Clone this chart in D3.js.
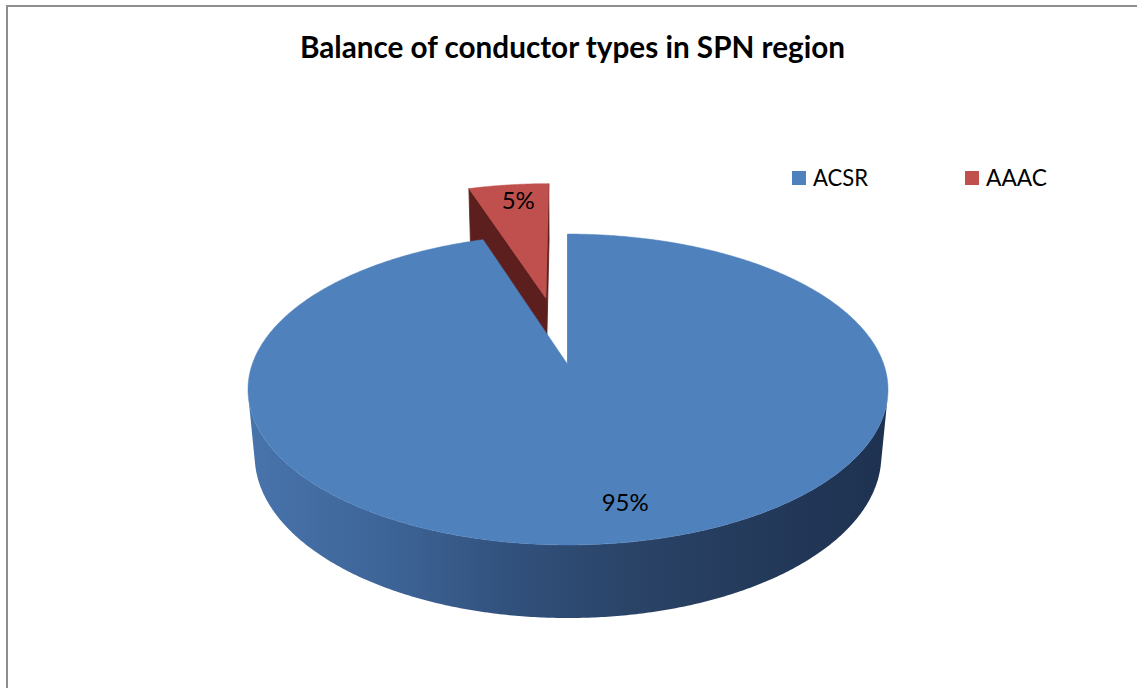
<!DOCTYPE html>
<html><head><meta charset="utf-8">
<script src="https://cdn.jsdelivr.net/npm/d3@7"></script>
<style>html,body{margin:0;padding:0;background:#fff;overflow:hidden}</style>
</head><body><svg id="c" width="1137" height="688"></svg>
<script>
// ---- data ----
const categories = ["ACSR", "AAAC"];
const values = [95, 5];
const valueLabels = ["95%", "5%"];
const explodeRatio = [0, 0.48];
const titleText = "Balance of conductor types in SPN region";

// ---- styles ----
const topColors = ["#4f81bd", "#c0504d"];
const wallColors = ["#2c4a74", "#5c1f1d"];
const FONT = "Lato, 'Open Sans', sans-serif";

const svg = d3.select("#c");
svg.append("rect").attr("width", 1137).attr("height", 688).attr("fill", "#fff");
svg.append("rect").attr("x", 7).attr("y", 6).attr("width", 1300).attr("height", 900)
  .attr("fill", "none").attr("stroke", "#8e8e8e").attr("stroke-width", 2);

// ---- 3D projection ----
const cx = 568, cy = 365, G = 316;
const sinPhi = 0.4797, cosPhi = Math.sqrt(1 - sinPhi * sinPhi), Dr = 5.567, depth = 0.241;
const xS = d3.scaleLinear().domain([-1, 1]).range([cx - G, cx + G]);
const yS = d3.scaleLinear().domain([-1, 1]).range([cy + G, cy - G]);
function proj(px, py, pz) {
  const Y = py * cosPhi + pz * sinPhi, Z = pz * cosPhi - py * sinPhi;
  const s = Dr / (Dr + Z);
  return [xS(px * s), yS(Y * s)];
}
const cam = {x: 0, y: Dr * sinPhi, z: -Dr * cosPhi};
const line = d3.line().curve(d3.curveLinear);

const defs = svg.append("defs");
const grad = defs.append("linearGradient").attr("id", "side0")
  .attr("gradientUnits", "userSpaceOnUse").attr("x1", 248).attr("x2", 888).attr("y1", 0).attr("y2", 0);
[[0, "#4874ac"], [0.22, "#3d6497"], [0.42, "#31507b"], [0.62, "#294265"], [1, "#1e3150"]]
  .forEach(([o, c]) => grad.append("stop").attr("offset", o).attr("stop-color", c));

const arcs = d3.pie().sort(null).value(d => d)(values).map((a, i) => {
  const m = (a.startAngle + a.endAngle) / 2;
  return {...a, i, m, ox: explodeRatio[i] * Math.sin(m), oz: explodeRatio[i] * Math.cos(m)};
});
const step = Math.PI / 360;
function rimPts(d, a0, a1, y) {
  const n = Math.max(2, Math.ceil(Math.abs(a1 - a0) / step));
  return d3.range(n + 1).map(k => {
    const a = a0 + (a1 - a0) * k / n;
    return proj(d.ox + Math.sin(a), y, d.oz + Math.cos(a));
  });
}
function wallVisible(d, a, nAng) {
  const mx = d.ox + 0.5 * Math.sin(a), mz = d.oz + 0.5 * Math.cos(a);
  const nx = Math.sin(nAng), nz = Math.cos(nAng);
  return nx * (cam.x - mx) + nz * (cam.z - mz) >= -1e-6;
}
const g = svg.append("g");
const order = arcs.slice().sort((a, b) => (b.oz + Math.cos(b.m)) - (a.oz + Math.cos(a.m)));
order.forEach(d => {
  const walls = [[d.startAngle, d.startAngle - Math.PI / 2], [d.endAngle, d.endAngle + Math.PI / 2]];
  walls.forEach(([a, nA]) => {
    if (!wallVisible(d, a, nA)) return;
    const pts = [proj(d.ox, 0, d.oz), proj(d.ox + Math.sin(a), 0, d.oz + Math.cos(a)),
      proj(d.ox + Math.sin(a), -depth, d.oz + Math.cos(a)), proj(d.ox, -depth, d.oz)];
    g.append("path").attr("d", line(pts) + "Z").attr("fill", wallColors[d.i])
      .attr("stroke", wallColors[d.i]).attr("stroke-width", 0.8);
  });
  // outer side
  const vx = cam.x - d.ox, vz = cam.z - d.oz, dist = Math.hypot(vx, vz);
  const angV = Math.atan2(vx, vz), half = Math.acos(1 / dist);
  let lo = angV - half, hi = angV + half;
  while (lo < d.startAngle - 1e-9) { lo += 2 * Math.PI; hi += 2 * Math.PI; }
  while (lo - 2 * Math.PI >= d.startAngle - 1e-9) { lo -= 2 * Math.PI; hi -= 2 * Math.PI; }
  [[lo, hi], [lo - 2 * Math.PI, hi - 2 * Math.PI]].forEach(([l, h]) => {
    const a0 = Math.max(l, d.startAngle), a1 = Math.min(h, d.endAngle);
    if (a1 <= a0) return;
    const pts = rimPts(d, a0, a1, 0).concat(rimPts(d, a1, a0, -depth));
    g.append("path").attr("d", line(pts) + "Z")
      .attr("fill", d.i === 0 ? "url(#side0)" : wallColors[d.i]);
  });
  // top face
  const topPts = [proj(d.ox, 0, d.oz)].concat(rimPts(d, d.startAngle, d.endAngle, 0));
  g.append("path").attr("d", line(topPts) + "Z").attr("fill", topColors[d.i])
    .attr("stroke", topColors[d.i]).attr("stroke-width", 0.5);
});

// ---- value labels ----
const labelR = 0.8;
const labelNudge = [[12, 0], [3, -6]];
arcs.forEach(d => {
  const p = proj(d.ox + labelR * Math.sin(d.m), 0, d.oz + labelR * Math.cos(d.m));
  svg.append("text").attr("x", p[0] + labelNudge[d.i][0]).attr("y", p[1] + labelNudge[d.i][1])
    .attr("text-anchor", "middle").attr("dominant-baseline", "central")
    .attr("font-family", FONT).attr("font-size", 24).attr("fill", "#000")
    .text(valueLabels[d.i]);
});

// ---- title ----
svg.append("text").attr("x", 572.5).attr("y", 58).attr("text-anchor", "middle")
  .attr("font-family", FONT).attr("font-weight", "bold").attr("font-size", 30.5).attr("fill", "#000")
  .attr("textLength", 545).attr("lengthAdjust", "spacingAndGlyphs")
  .text(titleText);

// ---- legend ----
const legendX = [792, 965];
categories.forEach((c, i) => {
  svg.append("rect").attr("x", legendX[i]).attr("y", 171).attr("width", 14).attr("height", 14)
    .attr("fill", topColors[i]);
  svg.append("text").attr("x", legendX[i] + 21).attr("y", 186)
    .attr("font-family", FONT).attr("font-size", 23).attr("fill", "#000")
    .attr("textLength", i === 0 ? 55 : 61).attr("lengthAdjust", "spacingAndGlyphs").text(c);
});
</script></body></html>
